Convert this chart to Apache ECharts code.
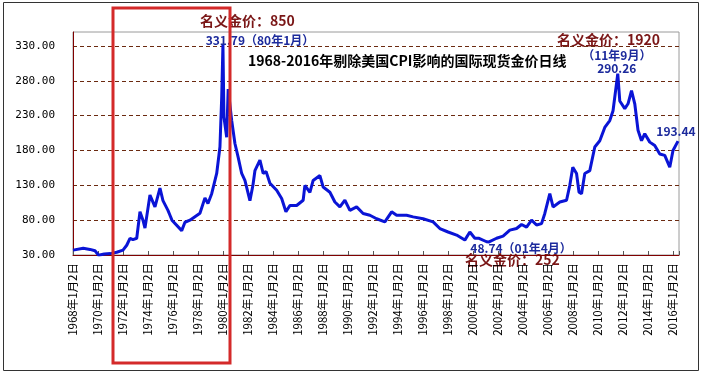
<!DOCTYPE html>
<html>
<head>
<meta charset="utf-8">
<script src="https://cdn.jsdelivr.net/npm/echarts@6/dist/echarts.min.js"></script>
<style>
  html, body { margin: 0; padding: 0; background: #fff; }
  #chart { width: 705px; height: 376px; }
</style>
</head>
<body>
<div id="chart"></div>
<script>
// 年份（小数）与剔除CPI后的金价
const years = [
  1968.00, 1968.82, 1969.36, 1969.76, 1970.05, 1970.5, 1971.0, 1971.5, 1972.0, 1972.30,
  1972.56, 1972.8, 1973.1, 1973.36, 1973.6, 1973.76, 1974.16, 1974.56, 1974.96, 1975.2,
  1975.6, 1975.76, 1975.92, 1976.7, 1976.96, 1977.36, 1977.5, 1978.16, 1978.56, 1978.8,
  1979.1, 1979.5, 1979.76, 1979.9, 1980.0, 1980.08, 1980.3, 1980.42, 1980.7, 1980.96,
  1981.22, 1981.5, 1981.76, 1982.16, 1982.4, 1982.56, 1982.96, 1983.22, 1983.45, 1983.76,
  1984.3, 1984.7, 1985.04, 1985.36, 1985.9, 1986.42, 1986.56, 1986.96, 1987.22, 1987.76,
  1988.02, 1988.56, 1988.96, 1989.36, 1989.76, 1990.16, 1990.7, 1991.22, 1991.76, 1992.3,
  1992.96, 1993.5, 1993.9, 1994.7, 1995.22, 1996.02, 1996.82, 1997.36, 1998.02, 1998.7,
  1999.36, 1999.76, 2000.16, 2000.5, 2001.1, 2001.3, 2001.9, 2002.42, 2002.96, 2003.5,
  2003.9, 2004.3, 2004.7, 2005.1, 2005.5, 2005.76, 2006.16, 2006.42, 2006.96, 2007.5,
  2007.76, 2008.0, 2008.3, 2008.5, 2008.7, 2008.96, 2009.36, 2009.76, 2010.16, 2010.56,
  2010.96, 2011.22, 2011.6, 2011.76, 2012.16, 2012.42, 2012.7, 2012.96, 2013.22, 2013.5,
  2013.76, 2014.16, 2014.56, 2014.96, 2015.36, 2015.76, 2016.02, 2016.42
];
const prices = [
  37, 39.6, 38, 36, 29.68, 31.5, 32, 34, 37, 44,
  54, 52, 54, 92, 80, 68.6, 116, 99, 126, 108,
  94, 87, 80, 65, 77, 80, 82, 90, 112, 104,
  118, 147, 185, 256, 331.79, 228, 199, 268, 223, 190,
  170, 147, 137, 108, 130, 151, 166, 147, 150, 133,
  123, 111, 92, 101, 101, 108.6, 130, 120, 137, 144,
  127.6, 120, 106, 99, 108.6, 94, 99, 89.6, 87, 82,
  77.6, 92, 87, 87, 84.7, 82, 77.6, 68, 63, 58.6,
  51.4, 63, 54, 54, 49, 48.74, 54, 57, 65.7, 68,
  73.8, 70, 80, 73, 75, 89.6, 118, 99, 106, 108.6,
  130, 156, 147, 120, 118, 147, 151, 185, 194, 213,
  223, 237, 290.26, 251, 240, 247, 266, 247, 209, 194,
  204, 192, 187, 175, 173, 156, 180, 193.44
];
const yTicks = [30, 80, 130, 180, 230, 280, 330];

const lineData = years.map((y, i) => [y, prices[i]]);

const blueText = '#1c2a9c';
const redText = '#7a1616';
const cjk = '"Noto Sans CJK SC", sans-serif';

const myChart = echarts.init(document.getElementById('chart'));
myChart.setOption({
  animation: false,
  backgroundColor: '#fff',
  grid: {
    left: 73,
    right: 26,
    top: 32,
    bottom: 121,
    show: true,
    borderColor: '#9a9a9a',
    borderWidth: 1
  },
  xAxis: {
    type: 'value',
    min: 1968,
    max: 2016.5,
    interval: 2,
    axisLine: { show: true, lineStyle: { color: '#800000', width: 1 } },
    axisTick: { show: true, inside: true, length: 4, lineStyle: { color: '#555' } },
    splitLine: { show: false },
    axisLabel: {
      rotate: 90,
      margin: 8,
      color: '#000',
      fontSize: 11.5,
      fontFamily: cjk,
      formatter: v => (v % 2 === 0 ? v + '年1月2日' : '')
    }
  },
  yAxis: {
    type: 'value',
    min: 30,
    max: 350,
    interval: 50,
    axisLine: { show: true, lineStyle: { color: '#800000', width: 1 } },
    axisTick: { show: false },
    splitLine: {
      show: true,
      lineStyle: {
        color: ['transparent', '#6b2a10', '#6b2a10', '#6b2a10', '#6b2a10', '#6b2a10', '#6b2a10', 'transparent'],
        type: [4, 3],
        width: 1
      }
    },
    axisLabel: {
      margin: 18,
      color: '#000',
      fontSize: 11,
      fontFamily: '"DejaVu Sans Mono", monospace',
      formatter: v => (yTicks.indexOf(v) >= 0 ? v.toFixed(2) : '')
    }
  },
  series: [{
    type: 'line',
    data: lineData,
    showSymbol: false,
    clip: true,
    lineStyle: { color: '#0a14d6', width: 3 },
    markPoint: {
      symbol: 'circle',
      symbolSize: 0,
      label: {
        show: true,
        color: blueText,
        fontWeight: 'bold',
        fontSize: 12,
        fontFamily: cjk
      },
      data: [
        { coord: [1980.0, 331.79], label: { formatter: '331.79（80年1月）', offset: [37, -4] } },
        { coord: [2011.6, 290.26], label: { formatter: '（11年9月）\n290.26', lineHeight: 13, offset: [-1, -12] } },
        { coord: [2001.3, 48.74], label: { formatter: '48.74（01年4月）', offset: [32, 6] } },
        { coord: [1970.05, 29.68], label: { formatter: '29.68（70年1月）', offset: [38, 6] } },
        { coord: [2016.42, 193.44], label: { formatter: '193.44', offset: [-2, -10] } }
      ]
    }
  }],
  graphic: [
    {
      type: 'rect',
      shape: { x: 3.5, y: 2.5, width: 695, height: 368 },
      style: { fill: 'none', stroke: '#333', lineWidth: 1 },
      silent: true
    },
    {
      type: 'rect',
      shape: { x: 113, y: 8, width: 117, height: 355 },
      style: { fill: 'none', stroke: '#d42a2a', lineWidth: 3 },
      silent: true,
      z: 100
    },
    {
      type: 'text', left: 248, top: 54,
      style: { text: '1968-2016年剔除美国CPI影响的国际现货金价日线', fill: '#000', font: 'bold 14px ' + cjk }
    },
    {
      type: 'text', left: 200, top: 14,
      style: { text: '名义金价：850', fill: redText, font: 'bold 14px ' + cjk }
    },
    {
      type: 'text', left: 557, top: 33,
      style: { text: '名义金价：1920', fill: redText, font: 'bold 14px ' + cjk }
    },
    {
      type: 'text', left: 465, top: 253,
      style: { text: '名义金价：252', fill: redText, font: 'bold 14px ' + cjk }
    }
  ]
});
</script>
</body>
</html>
